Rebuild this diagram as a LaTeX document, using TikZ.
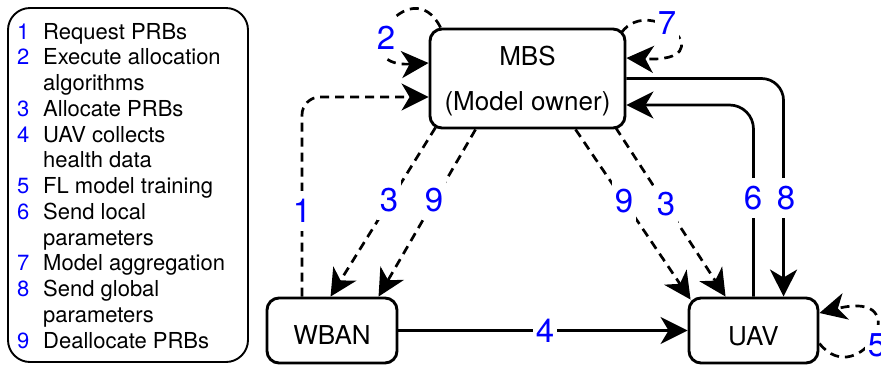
\documentclass[tikz,border=0pt]{standalone}
\usepackage{fontspec}
\setmainfont{TeX Gyre Heros}
\usetikzlibrary{arrows.meta,calc}
\definecolor{lblblue}{RGB}{0,0,255}
\newcommand\legnum[1]{\makebox[26pt][l]{\textcolor{lblblue}{#1}}}
\begin{document}
\begin{tikzpicture}[x=1pt,y=-1pt,
  box/.style={draw, line width=2.9pt, rounded corners=12pt, inner sep=0pt},
  conn/.style={line width=2.7pt, -{Stealth[length=27pt,width=27pt,inset=8pt]}},
  dconn/.style={conn, dash pattern=on 9pt off 6pt},
  num/.style={text=lblblue, font=\fontsize{33}{33}\selectfont, fill=white, inner xsep=3pt, inner ysep=8pt},
  nodetext/.style={font=\fontsize{26}{26}\selectfont, anchor=base, inner sep=0pt}
]
\useasboundingbox (0,0) rectangle (881,365);
% legend
\node[draw, line width=1.9pt, rounded corners=22pt, minimum width=240pt, minimum height=354pt] (legendbox) at (128,185) {};
\node[anchor=base west, inner sep=0pt, align=left, font=\fontsize{22}{25.75}\selectfont] (legendtext) at (17,348)
 {\legnum{1}Request PRBs\\
  \legnum{2}Execute allocation\\
  \legnum{}algorithms\\
  \legnum{3}Allocate PRBs\\
  \legnum{4}UAV collects\\
  \legnum{}health data\\
  \legnum{5}FL model training\\
  \legnum{6}Send local\\
  \legnum{}parameters\\
  \legnum{7}Model aggregation\\
  \legnum{8}Send global\\
  \legnum{}parameters\\
  \legnum{9}Deallocate PRBs};
% boxes
\node[box, minimum width=195pt, minimum height=99pt] (mbs) at (527.5,78.5) {};
\node[nodetext] (mbst1) at (527.5,65) {MBS};
\node[nodetext] (mbst2) at (527.5,110) {(Model owner)};
\node[box, minimum width=130pt, minimum height=65pt] (wban) at (332,330.5) {};
\node[nodetext] (wbant) at (332,344) {WBAN};
\node[box, minimum width=129pt, minimum height=65pt] (uav) at (753.5,330.5) {};
\node[nodetext] (uavt) at (753.5,345) {UAV};
% connectors
\draw[dconn, rounded corners=18pt] ([xshift=-30pt]wban.north) |- ([yshift=-18.5pt]mbs.west);
\draw[dconn] ([xshift=12pt]mbs.north west) .. controls +(-30,-60) and +(-88,5) .. ([yshift=15.5pt]mbs.west);
\draw[dconn] ([xshift=-5pt,yshift=-5pt]mbs.north east) .. controls +(30,-40) and +(100,5) .. ([yshift=20.5pt]mbs.east);
\draw[dconn] ([yshift=-13pt]uav.east) .. controls +(40,50) and +(100,-25) .. ([yshift=17.5pt]uav.east);
\draw[dconn] ([xshift=7pt,yshift=2pt]mbs.south west) -- ([xshift=65pt]wban.north west);
\draw[dconn] ([xshift=47pt]mbs.south west) -- ([xshift=113pt]wban.north west);
\draw[dconn] ([xshift=147pt]mbs.south west) -- ([xshift=3pt,yshift=-3pt]uav.north west);
\draw[dconn] ([xshift=187pt,yshift=2pt]mbs.south west) -- ([xshift=38pt]uav.north west);
\draw[conn] (wban.east) -- (uav.west);
\draw[conn, rounded corners=22pt] (mbs.east) -| ([xshift=96pt]uav.north west);
\draw[conn, rounded corners=24pt] (uav.north) |- ([yshift=-26.5pt]mbs.east);
% labels
\node[num] (l1) at (302,211) {1};
\node[num] (l2) at (386,38) {2};
\node[num] (l3a) at (389,200) {3};
\node[num] (l9a) at (434,200) {9};
\node[num] (l9b) at (624,201) {9};
\node[num] (l3b) at (666,204) {3};
\node[num] (l6) at (753,198) {6};
\node[num] (l8) at (786,198) {8};
\node[num] (l4) at (545,331) {4};
\node[num] (l7) at (667,23) {7};
\node[num] (l5) at (877,345) {5};
\end{tikzpicture}
\end{document}
